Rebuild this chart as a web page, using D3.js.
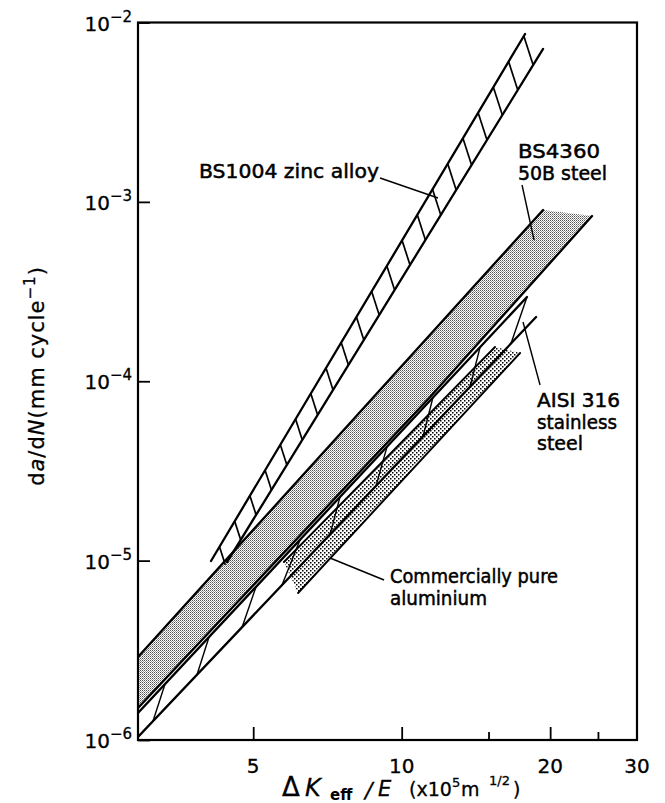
<!DOCTYPE html>
<html><head><meta charset="utf-8">
<script src="https://cdn.jsdelivr.net/npm/d3@7"></script>
<style>
body{margin:0;background:#fff}
svg{display:block}
text{font-family:"DejaVu Sans",sans-serif;fill:#000}
</style>
</head><body>
<svg id="c" width="665" height="803"></svg>
<script>
// ---------- data ----------
const xDomain = [2.92, 30];
const yDomain = [1e-6, 1e-2];
const xMajorTicks = [5, 10, 20];
const xMinorTicks = [15, 25];
const xTickLabels = [5, 10, 20, 30];
const yTickExp = [-6, -5, -4, -3, -2];

// band edges as [ΔKeff/E, da/dN]
const zincUpper = [[4.106, 9.95e-6], [17.79, 8.63e-3]];
const zincLower = [[4.425, 9.82e-6], [19.35, 7.12e-3]];
const zincHatchCount = 21;

const steelUpper = [[2.92, 2.90e-6], [19.35, 9.01e-4]];
const steelLower = [[2.92, 1.508e-6], [11.42, 8.17e-5], [24.32, 8.34e-4]];

const aisiUpper = [[2.92, 1.414e-6], [17.95, 2.95e-4]];
const aisiLower = [[2.92, 1.039e-6], [18.73, 2.28e-4]];
// zig strokes: [ΔK on lower edge, ΔK on upper edge]
const aisiStrokes = [[3.131, 3.313], [3.846, 4.068], [4.747, 5.067], [5.720, 6.222], [7.157, 7.499],
                     [8.872, 9.339], [11.05, 11.57], [13.76, 14.42], [16.66, 17.95]];

const aluUpper = [[5.772, 9.82e-6], [15.46, 1.552e-4]];
const aluLower = [[6.166, 6.60e-6], [17.38, 1.437e-4]];

// leader lines [from, to] in data units
const leaders = [
  [[9.04, 1.358e-3], [11.85, 1.051e-3]],
  [[17.54, 1.242e-3], [18.55, 6.13e-4]],
  [[19.08, 9.53e-5], [17.62, 2.14e-4]],
  [[9.21, 7.80e-6], [7.157, 1.034e-5]]
];
const labels = [
  {lines: ["BS1004 zinc alloy"], x: 199, y: 178, w: [180]},
  {lines: ["BS4360", "50B steel"], x: 518, y: 158, w: [82, 89]},
  {lines: ["AISI 316", "stainless", "steel"], x: 537, y: 407, w: [83, 80, 46]},
  {lines: ["Commercially pure", "aluminium"], x: 390, y: 583, w: [168, 97]}
];

// ---------- layout ----------
const L = 138, R = 637, T = 22.5, B = 740;
const x = d3.scaleLog().domain(xDomain).range([L, R]);
const y = d3.scaleLog().domain(yDomain).range([B, T]);
const svg = d3.select('#c');
const defs = svg.append('defs');
defs.append('clipPath').attr('id', 'plot').append('rect')
  .attr('x', L).attr('y', T).attr('width', R - L).attr('height', B - T);

const ps = defs.append('pattern').attr('id', 'steelPat').attr('patternUnits', 'userSpaceOnUse')
  .attr('width', 2).attr('height', 2);
ps.append('rect').attr('width', 2).attr('height', 2).attr('fill', '#fff');
ps.append('rect').attr('width', 1).attr('height', 1).attr('fill', '#555');
ps.append('rect').attr('x', 1).attr('y', 1).attr('width', 1).attr('height', 1).attr('fill', '#999');

const pa = defs.append('pattern').attr('id', 'aluPat').attr('patternUnits', 'userSpaceOnUse')
  .attr('width', 4).attr('height', 4);
pa.append('rect').attr('width', 4).attr('height', 4).attr('fill', '#fff');
pa.append('rect').attr('x', 0).attr('y', 0).attr('width', 1.5).attr('height', 1.5).attr('fill', '#000');
pa.append('rect').attr('x', 2).attr('y', 2).attr('width', 1.5).attr('height', 1.5).attr('fill', '#000');

const line = d3.line().x(d => x(d[0])).y(d => y(d[1]));
const P = d => [x(d[0]), y(d[1])];
function yAt(pts, xv) {
  const lx = Math.log10(xv);
  let i = 0;
  while (i < pts.length - 2 && lx > Math.log10(pts[i + 1][0])) i++;
  const a = pts[i], b = pts[i + 1];
  const t = (lx - Math.log10(a[0])) / (Math.log10(b[0]) - Math.log10(a[0]));
  return Math.pow(10, Math.log10(a[1]) + t * (Math.log10(b[1]) - Math.log10(a[1])));
}

const g = svg.append('g').attr('clip-path', 'url(#plot)');

// fills
g.append('path').attr('d', line(steelUpper.concat(steelLower.slice().reverse())) + 'Z')
  .attr('fill', 'url(#steelPat)');
g.append('path').attr('d', line(aluUpper.concat(aluLower.slice().reverse())) + 'Z')
  .attr('fill', 'url(#aluPat)');

// edges
const edge = (pts, w) => g.append('path').attr('d', line(pts)).attr('fill', 'none')
  .attr('stroke', '#000').attr('stroke-width', w).attr('stroke-linecap', 'round');
[zincUpper, zincLower, steelUpper, steelLower, aisiUpper, aisiLower].forEach(p => edge(p, 2.3));
[aluUpper, aluLower].forEach(p => edge(p, 1.9));

// zinc hatches
const zu = zincUpper.map(P), zl = zincLower.map(P);
const hd = [0.306, 0.951];
function hit(p, d, a, b) {
  const ex = b[0] - a[0], ey = b[1] - a[1];
  const den = d[0] * ey - d[1] * ex;
  const t = ((a[0] - p[0]) * ey - (a[1] - p[1]) * ex) / den;
  return [p[0] + t * d[0], p[1] + t * d[1]];
}
d3.range(zincHatchCount).forEach(i => {
  const f = 0.027 + i * (0.969 / (zincHatchCount - 1));
  const p = [zu[0][0] + f * (zu[1][0] - zu[0][0]), zu[0][1] + f * (zu[1][1] - zu[0][1])];
  const q = hit(p, hd, zl[0], zl[1]);
  g.append('line').attr('x1', p[0]).attr('y1', p[1]).attr('x2', q[0]).attr('y2', q[1])
    .attr('stroke', '#000').attr('stroke-width', 1.7);
});

// AISI strokes
aisiStrokes.forEach(s => {
  g.append('line')
    .attr('x1', x(s[0])).attr('y1', y(yAt(aisiLower, s[0])))
    .attr('x2', x(s[1])).attr('y2', y(yAt(aisiUpper, s[1])))
    .attr('stroke', '#000').attr('stroke-width', 1.4);
});

// leaders
leaders.forEach(l => {
  svg.append('line').attr('x1', x(l[0][0])).attr('y1', y(l[0][1]))
    .attr('x2', x(l[1][0])).attr('y2', y(l[1][1]))
    .attr('stroke', '#000').attr('stroke-width', 1.4);
});

// labels
labels.forEach(lb => {
  lb.lines.forEach((t, i) => {
    svg.append('text').attr('x', lb.x).attr('y', lb.y + i * 21.5)
      .attr('font-size', 19.5).attr('textLength', lb.w[i]).attr('lengthAdjust', 'spacingAndGlyphs')
      .attr('stroke', '#000').attr('stroke-width', 0.5)
      .text(t);
  });
});

// frame
svg.append('rect').attr('x', L).attr('y', T).attr('width', R - L).attr('height', B - T)
  .attr('fill', 'none').attr('stroke', '#000').attr('stroke-width', 2.2);

// axes (inward ticks)
const xa = svg.append('g').attr('transform', `translate(0,${B})`)
  .call(d3.axisBottom(x).tickValues(xMajorTicks).tickSizeInner(-13).tickSizeOuter(0).tickFormat(''));
const xb = svg.append('g').attr('transform', `translate(0,${B})`)
  .call(d3.axisBottom(x).tickValues(xMinorTicks).tickSizeInner(-8).tickSizeOuter(0).tickFormat(''));
const ya = svg.append('g').attr('transform', `translate(${L},0)`)
  .call(d3.axisLeft(y).tickValues(yTickExp.map(e => Math.pow(10, e))).tickSizeInner(-12).tickSizeOuter(0).tickFormat(''));
[xa, xb, ya].forEach(a => {
  a.select('.domain').remove();
  a.selectAll('.tick line').attr('stroke', '#000').attr('stroke-width', 1.8);
});

// tick labels
xTickLabels.forEach(v => {
  svg.append('text').attr('x', x(v)).attr('y', 773).attr('text-anchor', 'middle')
    .attr('font-size', 20).attr('stroke', '#000').attr('stroke-width', 0.3).text(v);
});
yTickExp.forEach(e => {
  const t = svg.append('text').attr('x', 132).attr('y', y(Math.pow(10, e)) + 8).attr('text-anchor', 'end')
    .attr('stroke', '#000').attr('stroke-width', 0.3);
  t.append('tspan').attr('font-size', 20).text('10');
  t.append('tspan').attr('font-size', 15).attr('dy', -9).text('\u2212' + Math.abs(e));
});

// x title (pieces placed along the baseline)
const xtY = 796;
const xPieces = [
  {t: '\u0394', x: 282, dy: 0, fs: 26},
  {t: 'K', x: 305, dy: 0, fs: 24, it: true},
  {t: 'eff', x: 330, dy: 4, fs: 15, bold: true},
  {t: '/', x: 365, dy: 2, fs: 22, it: true},
  {t: 'E', x: 378, dy: 0, fs: 21, it: true},
  {t: '(x10', x: 409, dy: 0, fs: 19},
  {t: '5', x: 452, dy: -9, fs: 13},
  {t: 'm', x: 461, dy: 0, fs: 19},
  {t: '1/2', x: 489, dy: -11, fs: 13},
  {t: ')', x: 513, dy: 0, fs: 19}
];
xPieces.forEach(p => {
  svg.append('text').attr('x', p.x).attr('y', xtY + p.dy).attr('font-size', p.fs)
    .attr('font-style', p.it ? 'italic' : 'normal').attr('font-weight', p.bold ? 'bold' : 'normal')
    .attr('stroke', '#000').attr('stroke-width', p.bold ? 0 : 0.3)
    .text(p.t);
});

// y title
const yt = svg.append('text').attr('transform', 'translate(44,376) rotate(-90)')
  .attr('text-anchor', 'middle').attr('font-size', 21).attr('letter-spacing', 1)
  .attr('stroke', '#000').attr('stroke-width', 0.3);
yt.append('tspan').text('d');
yt.append('tspan').attr('font-style', 'italic').text('a');
yt.append('tspan').text('/d');
yt.append('tspan').attr('font-style', 'italic').text('N');
yt.append('tspan').text('(mm cycle');
yt.append('tspan').attr('font-size', 15).attr('dy', -9).text('\u22121');
yt.append('tspan').attr('dy', 9).text(')');
</script>
</body></html>
